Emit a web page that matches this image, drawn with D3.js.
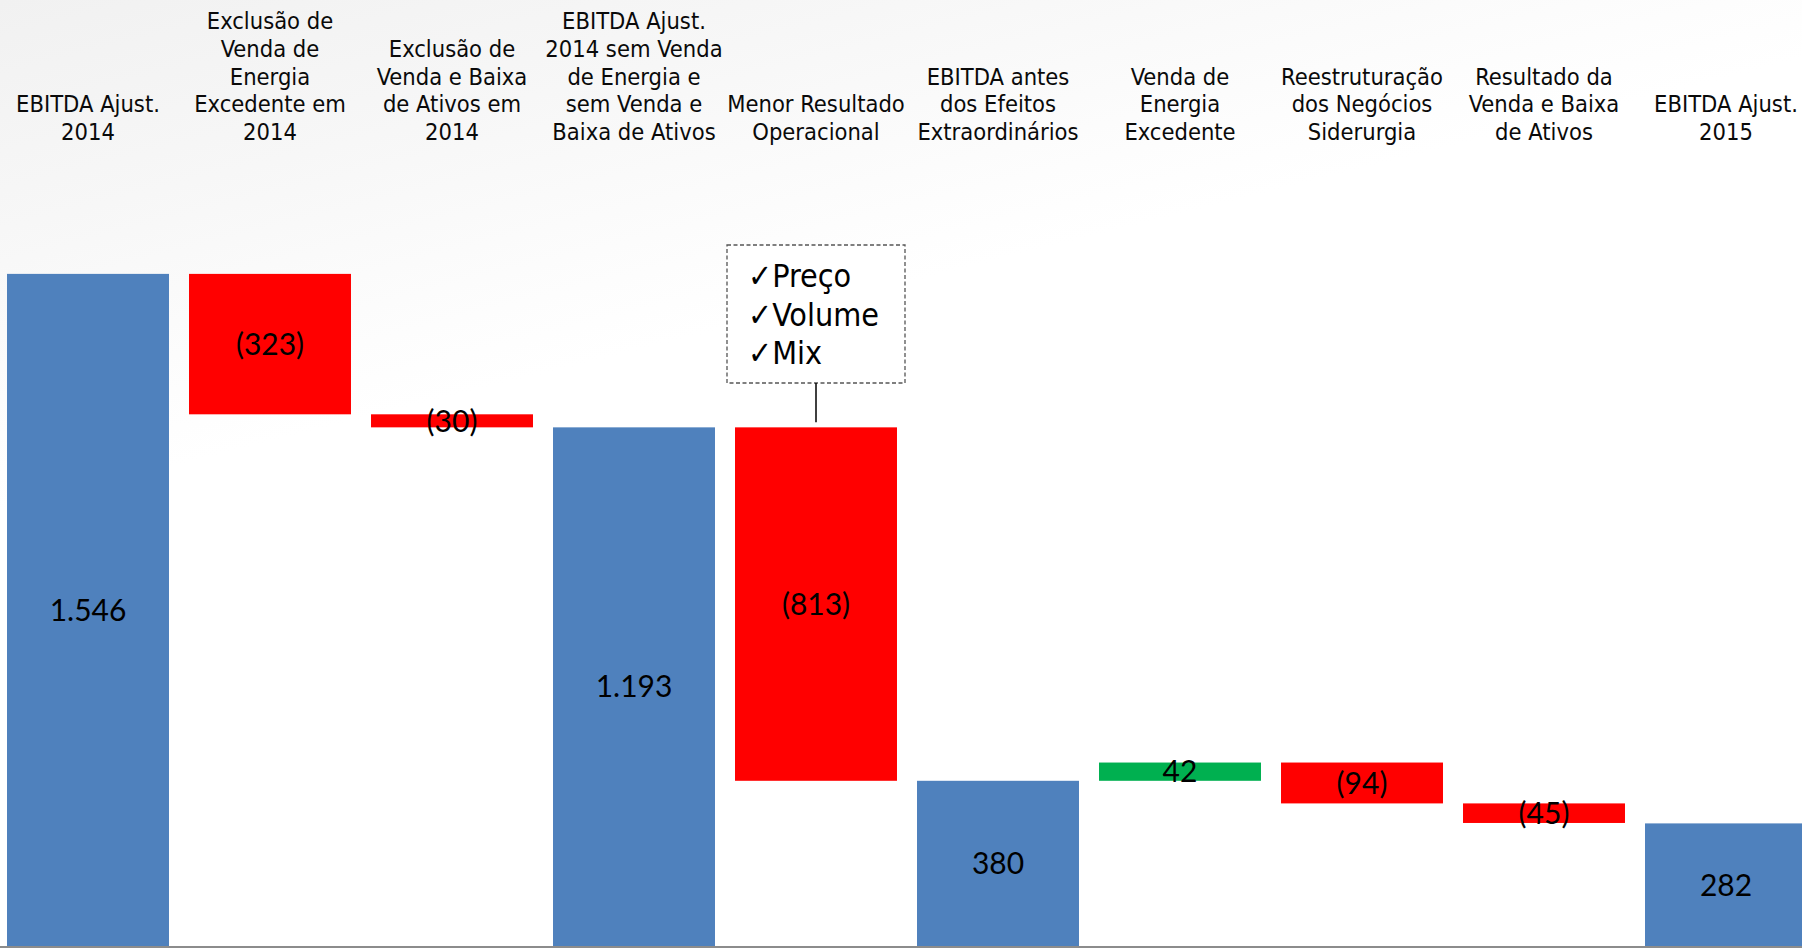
<!DOCTYPE html>
<html>
<head>
<meta charset="utf-8">
<script src="https://cdn.jsdelivr.net/npm/d3@7"></script>
<style>
  html, body { margin: 0; padding: 0; background: #fff; overflow: hidden; }
  svg { display: block; }
</style>
</head>
<body>
<svg id="chart" width="1802" height="948"></svg>
<script>
// ---- data ----
const categories = [
  "EBITDA Ajust.\n2014",
  "Exclusão de\nVenda de\nEnergia\nExcedente em\n2014",
  "Exclusão de\nVenda e Baixa\nde Ativos em\n2014",
  "EBITDA Ajust.\n2014 sem Venda\nde Energia e\nsem Venda e\nBaixa de Ativos",
  "Menor Resultado\nOperacional",
  "EBITDA antes\ndos Efeitos\nExtraordinários",
  "Venda de\nEnergia\nExcedente",
  "Reestruturação\ndos Negócios\nSiderurgia",
  "Resultado da\nVenda e Baixa\nde Ativos",
  "EBITDA Ajust.\n2015"
];
const values = [1546, -323, -30, 1193, -813, 380, 42, -94, -45, 282];
const kinds  = ["total", "delta", "delta", "total", "delta", "total", "delta", "delta", "delta", "total"];
const noteLines = ["Preço", "Volume", "Mix"];
const noteIndex = 4;

// ---- layout ----
const W = 1802, H = 948;
const baseY = 946;
const svg = d3.select("#chart");

// background gradient (light grey at top fading to white)
const defs = svg.append("defs");
const g1 = defs.append("linearGradient").attr("id", "bg")
  .attr("gradientUnits", "userSpaceOnUse")
  .attr("x1", 0).attr("y1", 0).attr("x2", 120).attr("y2", 480);
g1.append("stop").attr("offset", "0%").attr("stop-color", "#f1f1f1");
g1.append("stop").attr("offset", "45%").attr("stop-color", "#f7f7f7");
g1.append("stop").attr("offset", "85%").attr("stop-color", "#fdfdfd");
g1.append("stop").attr("offset", "100%").attr("stop-color", "#ffffff");
svg.append("rect").attr("width", W).attr("height", H).attr("fill", "url(#bg)");

const x = d3.scaleBand()
  .domain(categories)
  .range([-3, 1817])
  .paddingInner(0.11)
  .paddingOuter(0.055);

const y = d3.scaleLinear().domain([0, 2176]).range([baseY, 0]);

// compute waterfall segments
let running = 0;
const segs = categories.map((c, i) => {
  const v = values[i];
  let lo, hi;
  if (kinds[i] === "total") {
    lo = 0; hi = v; running = v;
  } else {
    const start = running;
    running = start + v;
    lo = Math.min(start, running); hi = Math.max(start, running);
  }
  const color = kinds[i] === "total" ? "#4f81bd" : (v < 0 ? "#ff0000" : "#00b050");
  return { c, v, lo, hi, color, kind: kinds[i] };
});

const fmtThousands = d3.formatLocale({ decimal: ",", thousands: ".", grouping: [3], currency: ["R$", ""] }).format(",d");
const label = d => d.v < 0 ? "(" + fmtThousands(-d.v) + ")" : fmtThousands(d.v);

// bars
svg.append("g").selectAll("rect").data(segs).join("rect")
  .attr("x", d => x(d.c))
  .attr("y", d => y(d.hi))
  .attr("width", x.bandwidth())
  .attr("height", d => y(d.lo) - y(d.hi))
  .attr("fill", d => d.color);

// baseline
svg.append("line")
  .attr("x1", 0).attr("x2", W)
  .attr("y1", baseY + 1).attr("y2", baseY + 1)
  .attr("stroke", "#8c8c8c").attr("stroke-width", 2);

// value labels
svg.append("g").selectAll("text").data(segs).join("text")
  .attr("x", d => x(d.c) + x.bandwidth() / 2)
  .attr("y", d => (y(d.lo) + y(d.hi)) / 2)
  .attr("dy", "0.36em")
  .attr("text-anchor", "middle")
  .attr("font-family", "Lato, 'Open Sans', sans-serif")
  .attr("font-size", 30)
  .attr("fill", "#000")
  .text(label);

// category labels (bottom-aligned)
const lineH = 27.7;
const lastBaseline = 140;
const catG = svg.append("g")
  .attr("font-family", "'DejaVu Sans Condensed', 'DejaVu Sans', sans-serif")
  .attr("font-stretch", "condensed")
  .attr("font-size", 23.5)
  .attr("fill", "#0a0a0a")
  .attr("text-anchor", "middle");
categories.forEach(c => {
  const lines = c.split("\n");
  const t = catG.append("text");
  lines.forEach((ln, j) => {
    t.append("tspan")
      .attr("x", x(c) + x.bandwidth() / 2)
      .attr("y", lastBaseline - (lines.length - 1 - j) * lineH)
      .text(ln);
  });
});

// annotation box
const nc = categories[noteIndex];
const cx = x(nc) + x.bandwidth() / 2;
const barTop = y(segs[noteIndex].hi);
const boxW = 178, boxTop = 245, boxBot = 383;
svg.append("rect")
  .attr("x", cx - boxW / 2).attr("y", boxTop)
  .attr("width", boxW).attr("height", boxBot - boxTop)
  .attr("fill", "#ffffff")
  .attr("stroke", "#555").attr("stroke-width", 1.3)
  .attr("stroke-dasharray", "4,2.5");
svg.append("line")
  .attr("x1", cx).attr("x2", cx)
  .attr("y1", boxBot).attr("y2", barTop - 5)
  .attr("stroke", "#000").attr("stroke-width", 1.5);
const noteG = svg.append("g")
  .attr("font-family", "'DejaVu Sans Condensed', 'DejaVu Sans', sans-serif")
  .attr("font-stretch", "condensed")
  .attr("font-size", 32)
  .attr("fill", "#000");
const noteBase = [287, 326, 364];
noteLines.forEach((ln, j) => {
  noteG.append("text")
    .attr("x", cx - 68)
    .attr("y", noteBase[j])
    .text("✓" + ln);
});
</script>
</body>
</html>
